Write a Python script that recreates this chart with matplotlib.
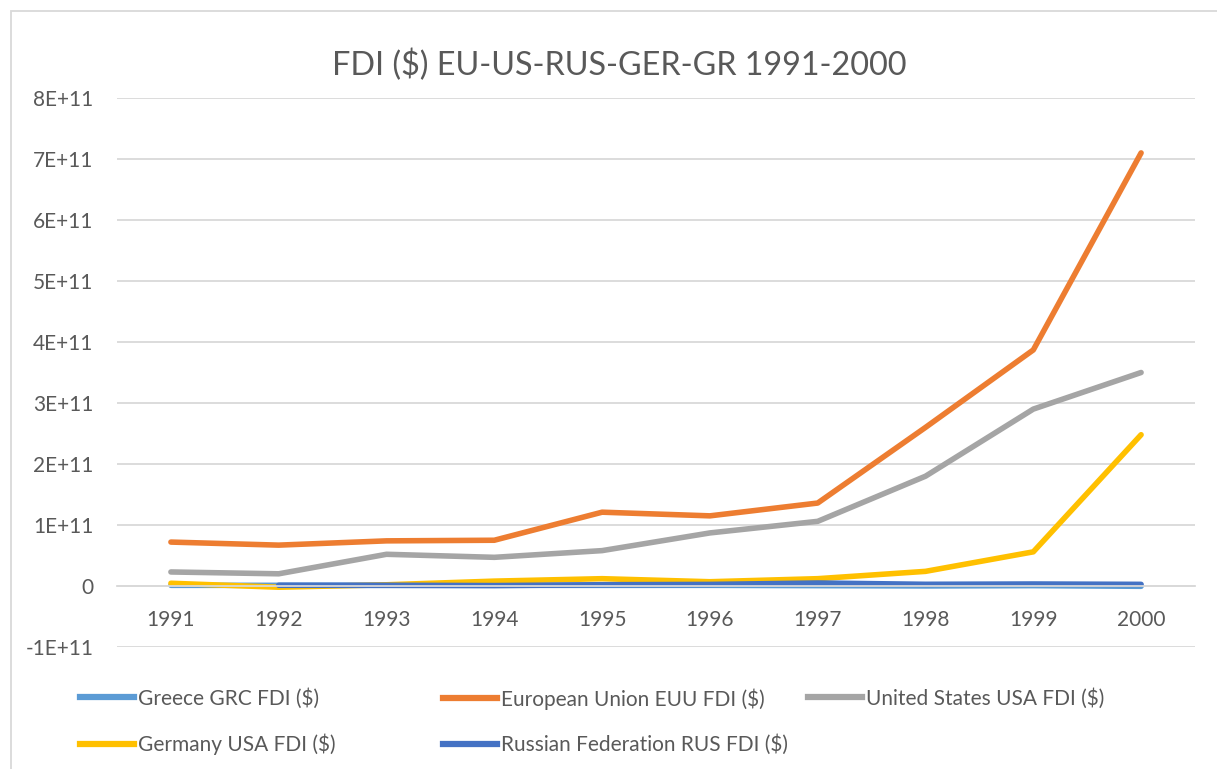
import numpy as np
import matplotlib.pyplot as plt
from matplotlib.lines import Line2D
from matplotlib.patches import Rectangle
from matplotlib.ticker import FuncFormatter

plt.rcParams['font.family'] = ['Lato', 'DejaVu Sans']

# ── data ────────────────────────────────────────────────────────
years = ["1991", "1992", "1993", "1994", "1995", "1996", "1997", "1998", "1999", "2000"]

greece = [1.1e9, 1.1e9, 1.0e9, 1.1e9, 1.05e9, 1.1e9, 0.6e9, 0.1e9, 0.6e9, -0.5e9]
eu = [0.72e11, 0.67e11, 0.74e11, 0.75e11, 1.21e11, 1.15e11, 1.36e11, 2.60e11, 3.87e11, 7.10e11]
usa = [0.23e11, 0.20e11, 0.52e11, 0.47e11, 0.58e11, 0.87e11, 1.06e11, 1.80e11, 2.90e11, 3.50e11]
germany = [0.045e11, -0.02e11, 0.02e11, 0.08e11, 0.12e11, 0.07e11, 0.12e11, 0.24e11, 0.56e11, 2.48e11]
russia = [np.nan, 1.2e9, 1.2e9, 0.7e9, 2.1e9, 2.6e9, 4.9e9, 2.8e9, 3.3e9, 2.7e9]

labels = ["Greece GRC FDI ($)", "European Union EUU FDI ($)", "United States USA FDI ($)",
          "Germany USA FDI ($)", "Russian Federation RUS FDI ($)"]
colors = ["#5B9BD5", "#ED7D31", "#A5A5A5", "#FFC000", "#4472C4"]
series = [greece, eu, usa, germany, russia]

text_col = "#595959"
grid_col = "#D9D9D9"
fs = 15

fig = plt.figure(figsize=(12.17, 7.69), dpi=100)
ax = fig.add_axes([117 / 1217, 1 - 647 / 769, 1078 / 1217, 549 / 769])

x = np.arange(len(years))
for vals, c, lab in zip(series, colors, labels):
    ax.plot(x, vals, color=c, linewidth=4.0, solid_capstyle='round', solid_joinstyle='round', label=lab)

ax.set_xlim(-0.5, len(years) - 0.5)
ax.set_ylim(-1e11, 8e11)
ax.set_yticks(np.arange(-1e11, 8.1e11, 1e11))
ax.yaxis.set_major_formatter(FuncFormatter(
    lambda v, p: "0" if abs(v) < 1 else f"{int(round(v / 1e11))}E+11"))
ax.grid(axis='y', color=grid_col, linewidth=1.3)
ax.set_axisbelow(True)
for s in ['top', 'right', 'left']:
    ax.spines[s].set_visible(False)
ax.spines['bottom'].set_position(('data', 0))
ax.spines['bottom'].set_color(grid_col)
ax.spines['bottom'].set_linewidth(1.3)
ax.set_xticks(x)
ax.set_xticklabels(years)
ax.tick_params(axis='x', length=0, pad=17, labelsize=fs, labelcolor=text_col)
ax.tick_params(axis='y', length=0, pad=17, labelsize=fs, labelcolor=text_col)

fig.text(619 / 1217, 1 - 65 / 769, "FDI ($) EU-US-RUS-GER-GR 1991-2000", ha='center', va='center',
         fontsize=23.3, color=text_col)

# legend: three equal-width columns like Excel
handles = [Line2D([], [], color=c, linewidth=4.5) for c in colors]
cols = [[0, 3], [1, 4], [2]]
col_x = [80 / 1217, 443 / 1217, 808 / 1217]
for xi, idx in zip(col_x, cols):
    fig.legend([handles[i] for i in idx], [labels[i] for i in idx], loc='upper left',
               bbox_to_anchor=(xi, 1 - 688 / 769), frameon=False, fontsize=fs,
               labelcolor=text_col, handlelength=2.6, handletextpad=0.2, labelspacing=1.2,
               borderaxespad=0, borderpad=0)

fig.add_artist(Rectangle((11 / 1217, -0.1), 1.2, 1.1 - 11 / 769, transform=fig.transFigure,
                         fill=False, edgecolor=grid_col, linewidth=1.3))

plt.savefig("out.png", dpi=100)
